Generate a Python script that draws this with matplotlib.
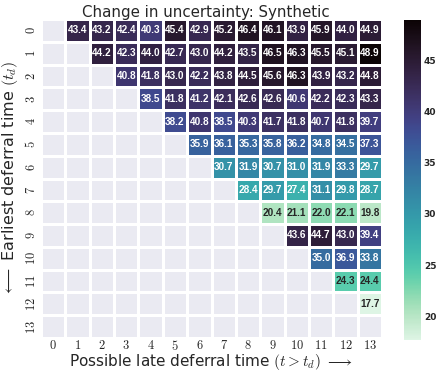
import numpy as np
import matplotlib
matplotlib.use('Agg')
import matplotlib.pyplot as plt
import seaborn as sns

sns.set_style('darkgrid')
plt.rcParams['font.family'] = ['DejaVu Sans']
plt.rcParams['mathtext.fontset'] = 'cm'

n_steps = 14
# upper triangle, row r starts at column r + 1
rows = [
    [43.4, 43.2, 42.4, 40.3, 45.4, 42.9, 45.2, 46.4, 46.1, 43.9, 45.9, 44.0, 44.9],
    [44.2, 42.3, 44.0, 42.7, 43.0, 44.2, 43.5, 46.5, 46.3, 45.5, 45.1, 48.9],
    [40.8, 41.8, 43.0, 42.2, 43.8, 44.5, 45.6, 46.3, 43.9, 43.2, 44.8],
    [38.5, 41.8, 41.2, 42.1, 42.6, 42.6, 40.6, 42.2, 42.3, 43.3],
    [38.2, 40.8, 38.5, 40.3, 41.7, 41.8, 40.7, 41.8, 39.7],
    [35.9, 36.1, 35.3, 35.8, 36.2, 34.8, 34.5, 37.3],
    [30.7, 31.9, 30.7, 31.0, 31.9, 33.3, 29.7],
    [28.4, 29.7, 27.4, 31.1, 29.8, 28.7],
    [20.4, 21.1, 22.0, 22.1, 19.8],
    [43.6, 44.7, 43.0, 39.4],
    [35.0, 36.9, 33.8],
    [24.3, 24.4],
    [17.7],
    [],
]

data = np.full((n_steps, n_steps), np.nan)
for r, vals in enumerate(rows):
    data[r, r + 1:r + 1 + len(vals)] = vals
mask = np.isnan(data)

W, H = 436, 371
fig = plt.figure(figsize=(W / 100, H / 100), dpi=100)
ax = fig.add_axes([41 / W, 1 - 338 / H, 341 / W, 319 / H])
cax = fig.add_axes([404 / W, 1 - 340 / H, 17 / W, 320 / H])
ax.set_facecolor('#EAEAF2')

sns.heatmap(data, mask=mask, cmap='mako_r', annot=True, fmt='.1f',
            annot_kws={'size': 7.2, 'weight': 'bold', 'family': 'Liberation Sans'},
            linewidths=1, linecolor='white', ax=ax, cbar_ax=cax)

# white separators in the empty part
for k in range(n_steps + 1):
    ax.axhline(k, color='white', lw=1, zorder=0.5)
    ax.axvline(k, color='white', lw=1, zorder=0.5)
ax.grid(False)

ticks = np.arange(n_steps) + 0.5
ax.set_xticks(ticks)
ax.set_xticklabels(['$%d$' % i for i in range(n_steps)], fontsize=9)
ax.set_yticks(ticks)
ax.set_yticklabels(['$%d$' % i for i in range(n_steps)], fontsize=9, rotation=90, va='center')
ax.tick_params(length=0, pad=2)
ax.tick_params(axis='x', pad=1)

ax.set_xlabel(r'Possible late deferral time $(t > t_d)$ $\longrightarrow$', fontsize=11, labelpad=-1)
ax.set_ylabel(r'$\longleftarrow$ Earliest deferral time $(t_d)$', fontsize=11.5, labelpad=3)
fig.text(206 / W, 1 - 12 / H, 'Change in uncertainty: Synthetic', fontsize=10.8,
         ha='center', va='center')

cax.tick_params(length=0, labelsize=6.5, pad=2)
for t in cax.get_yticklabels():
    t.set_fontweight('bold')
ax.collections[0].colorbar.outline.set_visible(False)

fig.savefig('out.png', dpi=100)
